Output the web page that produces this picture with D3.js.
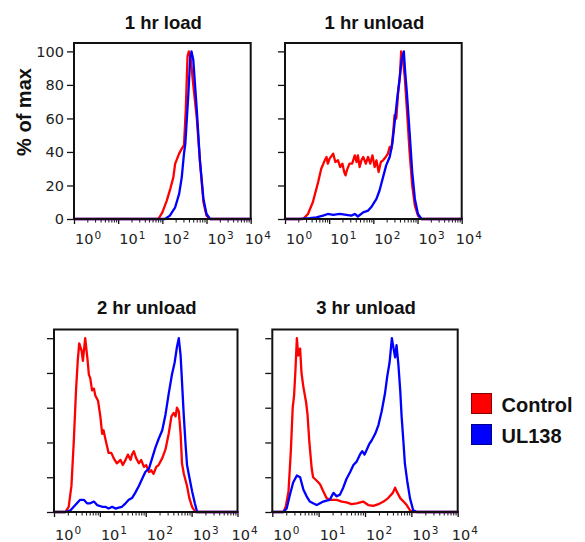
<!DOCTYPE html>
<html>
<head>
<meta charset="utf-8">
<script src="https://cdn.jsdelivr.net/npm/d3@7"></script>
<style>
  html, body { margin: 0; padding: 0; background: #fff; }
  svg { display: block; }
</style>
</head>
<body>
<svg id="chart" width="585" height="542"></svg>
<script>
// ---------- data (x = log10 fluorescence, y = % of max) ----------
const panelTitles = ["1 hr load", "1 hr unload", "2 hr unload", "3 hr unload"];
const seriesNames = ["Control", "UL138"];
const seriesColors = ["#ff0000", "#0000ff"];
const yTicks = [0, 20, 40, 60, 80, 100];
const xTickExps = [0, 1, 2, 3, 4];

const load1Control = [[0,0],[1.91,0],[2.0,4],[2.1,11],[2.18,18],[2.25,25],[2.29,33],[2.32,35],[2.38,39],[2.44,42],[2.49,44],[2.53,65],[2.57,97],[2.6,100],[2.64,96],[2.7,80],[2.78,60],[2.85,35],[2.93,10],[3.0,2],[3.08,0],[4,0]];
const load1UL138 = [[0,0],[2.06,0],[2.17,2],[2.29,7],[2.38,15],[2.44,25],[2.49,39],[2.52,45],[2.59,75],[2.63,96],[2.66,100],[2.7,95],[2.78,65],[2.85,35],[2.93,12],[3.0,3],[3.08,0],[4,0]];

const unload1Control = [[0,0],[0.41,0],[0.52,3],[0.63,10],[0.75,22],[0.82,30],[0.9,35],[0.94,37],[0.97,33],[1.01,36],[1.09,39],[1.14,34],[1.2,35],[1.25,31],[1.3,33],[1.34,28],[1.37,26],[1.4,29],[1.46,33],[1.52,33],[1.58,38],[1.62,34],[1.65,38],[1.69,31],[1.73,35],[1.77,37],[1.83,33],[1.88,37],[1.93,33],[1.98,38],[2.03,31],[2.07,35],[2.12,28],[2.17,34],[2.22,35],[2.28,37],[2.33,39],[2.37,43],[2.41,42],[2.45,52],[2.48,62],[2.52,60],[2.56,75],[2.6,85],[2.63,100],[2.67,95],[2.71,85],[2.76,65],[2.82,40],[2.88,20],[2.94,8],[3.01,2],[3.09,0],[4,0]];
const unload1UL138 = [[0,0],[0.33,0],[0.56,0.5],[0.71,1],[0.86,2],[0.97,3],[1.09,2.5],[1.24,3],[1.39,2.5],[1.5,2],[1.58,3],[1.65,1.5],[1.77,4],[1.88,5],[1.95,7],[2.07,12],[2.14,17],[2.22,25],[2.29,32],[2.37,37],[2.43,45],[2.48,57],[2.54,72],[2.6,85],[2.64,95],[2.69,100],[2.72,88],[2.76,75],[2.82,52],[2.88,28],[2.94,12],[3.01,3],[3.09,0],[4,0]];

const unload2Control = [[0,0],[0.25,0],[0.32,3],[0.38,15],[0.43,40],[0.48,70],[0.52,88],[0.55,97],[0.6,93],[0.63,87],[0.68,100],[0.73,88],[0.76,79],[0.79,77],[0.83,70],[0.87,71],[0.9,67],[0.96,64],[1.01,55],[1.05,45],[1.08,47],[1.12,42],[1.19,34],[1.25,34],[1.3,31],[1.37,28],[1.45,30],[1.5,27],[1.56,30],[1.61,33],[1.67,30],[1.7,33],[1.74,35],[1.79,31],[1.85,28],[1.9,30],[1.96,26],[2.01,27],[2.07,23],[2.12,24],[2.17,22],[2.23,26],[2.28,27],[2.36,31],[2.43,36],[2.5,45],[2.56,55],[2.61,57],[2.65,55],[2.68,60],[2.72,58],[2.76,45],[2.79,28],[2.83,22],[2.9,15],[2.95,8],[3.01,3],[3.08,0],[4,0]];
const unload2UL138 = [[0,0],[0.25,0],[0.36,1],[0.43,3],[0.5,5],[0.57,7],[0.65,7],[0.72,5],[0.79,5],[0.87,6],[0.94,4],[1.05,3],[1.12,3],[1.19,2],[1.27,3],[1.34,2],[1.41,2.5],[1.48,3],[1.56,5],[1.63,7],[1.7,8],[1.77,11],[1.85,15],[1.92,19],[1.99,23],[2.07,25],[2.14,31],[2.21,37],[2.28,42],[2.36,47],[2.43,56],[2.5,68],[2.57,79],[2.63,86],[2.68,95],[2.72,100],[2.76,90],[2.79,75],[2.83,55],[2.87,38],[2.9,27],[2.95,20],[3.01,12],[3.07,5],[3.12,0],[4,0]];

const unload3Control = [[0,0],[0.24,0],[0.29,3],[0.35,12],[0.4,35],[0.44,60],[0.47,67],[0.5,82],[0.53,100],[0.56,90],[0.6,94],[0.63,80],[0.67,72],[0.73,63],[0.76,56],[0.8,40],[0.85,25],[0.88,20],[0.96,18],[1.03,16],[1.1,12],[1.17,8],[1.24,7],[1.32,7],[1.39,7],[1.5,6],[1.6,5.5],[1.71,4.5],[1.82,5],[1.96,6],[2.07,4],[2.18,3.5],[2.29,4.5],[2.4,6],[2.5,8],[2.6,11],[2.65,14],[2.68,12],[2.76,8],[2.83,6],[2.9,4],[2.97,1],[3.04,0],[4,0]];
const unload3UL138 = [[0,0],[0.24,0],[0.31,2],[0.38,10],[0.45,17],[0.53,21],[0.6,20],[0.67,13],[0.74,9],[0.81,6],[0.88,5],[0.96,4],[1.03,5],[1.1,6],[1.17,6.5],[1.24,7],[1.32,11],[1.39,9],[1.46,10],[1.53,14],[1.6,19],[1.68,23],[1.75,27],[1.82,29],[1.89,33],[1.94,35],[1.99,33],[2.04,36],[2.09,39],[2.14,41],[2.22,45],[2.29,50],[2.36,58],[2.43,68],[2.48,78],[2.53,86],[2.58,100],[2.61,95],[2.65,89],[2.68,96],[2.72,85],[2.76,70],[2.79,55],[2.83,40],[2.86,28],[2.91,18],[2.97,8],[3.04,1],[3.12,0],[4,0]];

const panelSeries = [
  [load1Control, load1UL138],
  [unload1Control, unload1UL138],
  [unload2Control, unload2UL138],
  [unload3Control, unload3UL138]
];

// ---------- layout ----------
const boxes = [
  {x0: 74,    x1: 250.7, y0: 43,    y1: 219, labels: true,  titleY: 28.5},
  {x0: 285,   x1: 461.7, y0: 43,    y1: 219, labels: false, titleY: 28.5},
  {x0: 54,    x1: 237.5, y0: 329.5, y1: 512, labels: false, titleY: 313.5},
  {x0: 272.3, x1: 457.7, y0: 329.5, y1: 512, labels: false, titleY: 313.5}
];

const svg = d3.select("#chart");
const tickFont = "'DejaVu Sans', sans-serif";
const boldFont = "'Liberation Sans', Arial, sans-serif";

boxes.forEach((b, i) => {
  const x = d3.scaleLog().domain([1, 1e4]).range([b.x0, b.x1]);
  const y = d3.scaleLinear().domain([0, 105]).range([b.y1, b.y0]);
  const g = svg.append("g");

  // title
  g.append("text")
    .attr("x", (b.x0 + b.x1) / 2 + 1)
    .attr("y", b.titleY)
    .attr("text-anchor", "middle")
    .attr("font-family", boldFont)
    .attr("font-weight", "bold")
    .attr("font-size", 18.5)
    .attr("fill", "#111")
    .text(panelTitles[i]);

  // y axis ticks
  const yAxis = d3.axisLeft(y).tickValues(yTicks).tickSize(6).tickPadding(3)
    .tickFormat(b.labels ? d3.format("d") : () => "");
  const ya = g.append("g").attr("transform", `translate(${b.x0 - 1},0)`).call(yAxis);
  ya.select(".domain").remove();
  ya.selectAll("line").attr("stroke", "#111").attr("stroke-width", 1.3);
  ya.selectAll("text").attr("font-family", tickFont).attr("font-size", 14.5).attr("fill", "#222");

  // x axis: major and minor ticks
  const majors = xTickExps.map(e => Math.pow(10, e));
  const minors = [];
  for (let e = 0; e < 4; e++) for (let m = 2; m <= 9; m++) minors.push(m * Math.pow(10, e));
  const xaMaj = g.append("g").attr("transform", `translate(0,${b.y1 + 1})`)
    .call(d3.axisBottom(x).tickValues(majors).tickSize(4).tickFormat(() => ""));
  xaMaj.select(".domain").remove();
  xaMaj.selectAll("line").attr("stroke", "#111").attr("stroke-width", 1.3);
  const xaMin = g.append("g").attr("transform", `translate(0,${b.y1 + 1})`)
    .call(d3.axisBottom(x).tickValues(minors).tickSize(2.5).tickFormat(() => ""));
  xaMin.select(".domain").remove();
  xaMin.selectAll("line").attr("stroke", "#111").attr("stroke-width", 1);

  // x tick labels 10^n
  const labBase = b.y1 + (i < 2 ? 25 : 27.5);
  xTickExps.forEach((e, k) => {
    const tx = x(Math.pow(10, e)) + (k === xTickExps.length - 1 ? -6 : 1);
    const t = g.append("text")
      .attr("x", tx).attr("y", labBase)
      .attr("font-family", tickFont).attr("font-size", 14.5).attr("fill", "#222");
    t.append("tspan").text("10");
    t.append("tspan").attr("font-size", 10.5).attr("dy", -5.5).attr("dx", 1).text(String(e));
  });

  // curves
  const line = d3.line()
    .x(d => x(Math.pow(10, d[0])))
    .y(d => y(d[1]));
  panelSeries[i].forEach((s, si) => {
    g.append("path")
      .datum(s)
      .attr("d", line)
      .attr("fill", "none")
      .attr("stroke", seriesColors[si])
      .attr("stroke-width", 2.3)
      .attr("stroke-linejoin", "round")
      .attr("stroke-linecap", "round");
  });

  // frame
  g.append("rect")
    .attr("x", b.x0).attr("y", b.y0)
    .attr("width", b.x1 - b.x0).attr("height", b.y1 - b.y0)
    .attr("fill", "none").attr("stroke", "#111").attr("stroke-width", 2);
});

// y label
svg.append("text")
  .attr("transform", "translate(31,112) rotate(-90)")
  .attr("text-anchor", "middle")
  .attr("font-family", boldFont)
  .attr("font-weight", "bold")
  .attr("font-size", 20)
  .attr("fill", "#111")
  .text("% of max");

// legend
const legBorders = ["#8b0000", "#00008b"];
seriesNames.forEach((name, i) => {
  const ly = 393.5 + i * 31;
  svg.append("rect")
    .attr("x", 471.5).attr("y", ly)
    .attr("width", 20).attr("height", 20)
    .attr("fill", seriesColors[i])
    .attr("stroke", legBorders[i]).attr("stroke-width", 1);
  svg.append("text")
    .attr("x", 501.5).attr("y", ly + 18)
    .attr("font-family", boldFont)
    .attr("font-weight", "bold")
    .attr("font-size", 20)
    .attr("fill", "#111")
    .text(name);
});
</script>
</body>
</html>
